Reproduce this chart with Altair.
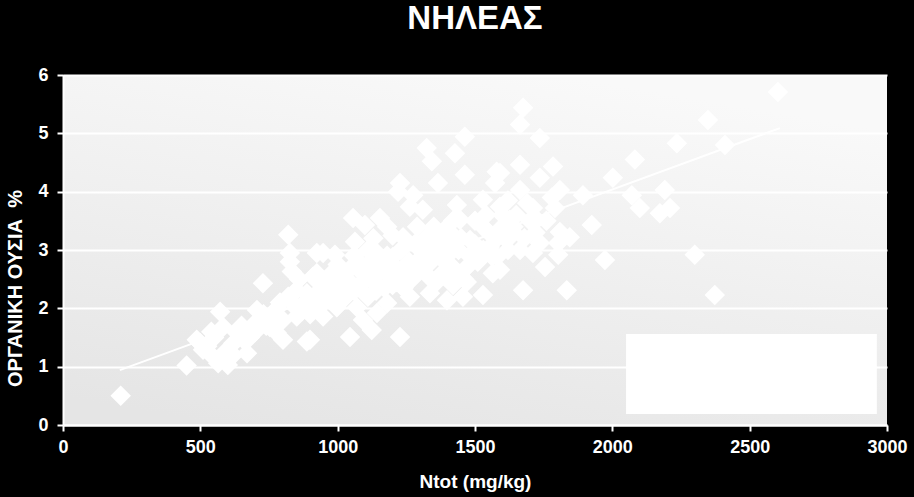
import altair as alt
import pandas as pd

# ---- data ----
n_tot = [
    210, 450, 487, 510, 500, 525, 565, 600, 590, 572, 583, 633, 670, 728, 706, 753, 778,
    820, 826, 826, 833, 888, 826, 851, 801, 924, 910, 888, 850,
    1463, 1324, 1343, 1427, 1463, 1579, 1573, 1227, 1220, 1275, 1365, 1434, 1529, 1056,
    1099, 1154, 1310, 1263, 1063, 947, 990, 924, 972, 1045, 924, 947, 899, 1045, 1124,
    1227, 1143, 1180, 1263, 1336, 1398, 1456, 1529, 1565, 1580, 1471, 1383, 1324, 1201,
    1143, 1081, 1117, 1190, 1238, 1289, 1361, 1409, 1482, 1529, 1554, 1445, 1020, 997,
    1070, 1092,
    1675, 1664, 1736, 2235, 2082, 1664, 1784, 1736, 2002, 1591, 1664, 1809, 1893, 2071,
    2191, 2100, 2173, 2210, 1791, 1711, 1627, 1725, 1925, 1809, 1845, 1803, 1736, 1664,
    1711, 1803, 1973, 2300, 1755, 1591, 1675, 1834, 1616, 1591, 2603, 2348, 2410, 2373,
    850, 880, 900, 920, 950, 960, 980, 1000, 1010, 1030, 1050, 1060, 1080, 1100, 1120,
    1140, 1150, 1160, 1180, 1200, 1210, 1230, 1250, 1260, 1280, 1300, 1310, 1320, 1340,
    1350, 1370, 1380, 1400, 1410, 1420, 1440, 1450, 1460, 1480, 1500, 1510, 1530, 1550,
    1560, 1580, 1600, 1620, 1640, 1650, 1680, 1700, 760, 780, 800, 820, 740, 700, 680,
    660, 620, 550, 540,
    1000, 1030, 1060, 1090, 1110, 1130, 1170, 1190, 1215, 1240, 1270, 1290, 1330, 1360,
    1390, 1420, 1440, 1470, 1350, 1390, 1420, 1500, 1540, 1600, 1620, 1640, 1690, 1720,
    1760, 1780, 1200, 1180, 1130, 1110, 1000, 970, 930, 900, 870, 860, 790, 760, 730,
    700, 650, 620, 540,
]
organic = [
    0.50, 1.02, 1.46, 1.29, 1.40, 1.35, 1.06, 1.03, 1.25, 1.94, 1.68, 1.58, 1.23, 2.43, 1.97, 1.68, 1.58,
    3.26, 2.95, 2.80, 2.63, 1.43, 2.14, 1.86, 1.46, 2.95, 2.54, 2.26, 2.31,
    4.94, 4.75, 4.52, 4.66, 4.29, 4.34, 4.15, 4.15, 4.00, 3.94, 4.15, 3.77, 3.86, 3.55,
    3.43, 3.55, 3.69, 3.74, 3.14, 2.95, 2.92, 2.60, 2.57, 2.45, 2.26, 1.86, 1.46, 1.51, 1.63,
    1.51, 1.92, 2.09, 2.20, 2.26, 2.14, 2.20, 2.23, 2.60, 2.88, 2.71, 2.83, 3.00, 2.88,
    2.95, 2.78, 2.60, 2.54, 3.22, 3.40, 3.29, 3.17, 3.17, 3.40, 3.05, 3.52, 2.31, 2.02,
    2.02, 1.80,
    5.44, 5.15, 4.92, 4.83, 4.55, 4.46, 4.43, 4.24, 4.24, 4.32, 4.03, 4.03, 3.94, 3.94,
    4.03, 3.72, 3.63, 3.72, 3.72, 3.72, 3.52, 3.52, 3.43, 3.31, 3.22, 3.12, 3.12, 3.00,
    2.95, 2.92, 2.83, 2.92, 2.71, 2.66, 2.31, 2.31, 3.17, 3.74, 5.71, 5.23, 4.80, 2.23,
    2.00, 2.10, 1.90, 2.00, 2.10, 2.30, 2.20, 2.40, 2.60, 2.20, 2.70, 2.90, 2.40, 2.50, 2.80,
    2.30, 2.60, 2.70, 2.90, 2.40, 2.70, 3.00, 2.60, 2.80, 3.10, 2.70, 2.90, 3.20, 2.80,
    3.00, 3.10, 2.60, 2.90, 3.30, 2.70, 3.00, 3.20, 2.50, 2.90, 3.10, 2.80, 3.00, 3.30,
    2.90, 3.20, 3.40, 3.00, 3.30, 3.60, 3.20, 3.50, 1.90, 2.00, 1.80, 2.20, 1.70, 1.60, 1.50,
    1.45, 1.40, 1.50, 1.60,
    2.10, 2.50, 2.30, 2.60, 2.20, 2.45, 2.35, 2.75, 2.45, 2.35, 2.50, 2.60, 2.55, 2.45,
    2.55, 2.40, 2.60, 2.45, 3.40, 3.35, 3.50, 3.50, 3.60, 3.60, 3.85, 3.40, 3.80, 3.30,
    3.50, 3.90, 3.25, 3.40, 3.20, 3.00, 2.75, 2.40, 2.45, 2.10, 1.95, 2.50, 2.10, 1.75, 1.90,
    1.75, 1.70, 1.20, 1.20,
]
trend_n = [207, 2610]
trend_om = [0.94, 5.09]

x_ticks = [0, 500, 1000, 1500, 2000, 2500, 3000]
y_ticks = [0, 1, 2, 3, 4, 5, 6]
x_domain = [0, 3000]
y_domain = [0, 6]

plot_bg_n, plot_bg_n2 = [0], [3000]
plot_bg_om, plot_bg_om2 = [0], [6]
legend_n, legend_n2 = [2050], [2963]
legend_om, legend_om2 = [0.19], [1.56]

chart_title = "ΝΗΛΕΑΣ"
x_title = "Ntot (mg/kg)"
y_title = "ΟΡΓΑΝΙΚΗ ΟΥΣΙΑ\u00a0 %"

# ---- chart ----
FONT = "Liberation Sans"
pts = pd.DataFrame({"n": n_tot, "om": organic})
trend = pd.DataFrame({"n": trend_n, "om": trend_om})
bg = pd.DataFrame({"n": plot_bg_n, "n2": plot_bg_n2, "om": plot_bg_om, "om2": plot_bg_om2})
legend_box = pd.DataFrame({"n": legend_n, "n2": legend_n2, "om": legend_om, "om2": legend_om2})

x_scale = alt.Scale(domain=x_domain, nice=False, zero=False)
y_scale = alt.Scale(domain=y_domain, nice=False, zero=False)

common_axis = dict(
    labelFont=FONT, labelFontSize=18, labelFontWeight="bold", labelColor="white",
    titleFont=FONT, titleFontWeight="bold", titleColor="white",
    domainColor="white", domainWidth=2, tickColor="white", tickWidth=2, tickSize=6,
    zindex=1, format="d",
)
x_axis = alt.Axis(values=x_ticks, title=x_title, grid=False, labelPadding=7,
                  titlePadding=16, titleFontSize=19, labelFlush=False, labelOverlap=False,
                  **common_axis)
y_axis = alt.Axis(values=y_ticks, title=y_title, grid=True, gridColor="white", gridWidth=2,
                  labelPadding=9, titleAngle=-90, titleX=-48, titleY=213, titleFontSize=20,
                  titleBaseline="middle", titleAlign="center", labelOverlap=False, **common_axis)

X = alt.X("n:Q", scale=x_scale, axis=x_axis)
Y = alt.Y("om:Q", scale=y_scale, axis=y_axis)

gradient = alt.LinearGradient(
    gradient="linear",
    stops=[alt.GradientStop(color="#e5e5e5", offset=0), alt.GradientStop(color="#f9f9f9", offset=1)],
    x1=0.2, y1=1, x2=0.6, y2=0,
)

bg_layer = alt.Chart(bg).mark_rect(fill=gradient, stroke=None).encode(x=X, x2="n2", y=Y, y2="om2")
pts_layer = alt.Chart(pts).mark_point(shape="diamond", filled=True, size=420, color="white",
                                      opacity=1).encode(x=X, y=Y)
trend_layer = alt.Chart(trend).mark_line(color="white", strokeWidth=2).encode(x=X, y=Y)
legend_layer = alt.Chart(legend_box).mark_rect(color="white").encode(x=X, x2="n2", y=Y, y2="om2")

chart = alt.layer(bg_layer, pts_layer, trend_layer, legend_layer).properties(
    width=824, height=350,
    title=alt.TitleParams(chart_title, font=FONT, fontSize=33, fontWeight="bold", color="white",
                          anchor="middle", offset=30),
    autosize=alt.AutoSizeParams(type="none"),
    padding={"left": 63, "top": 75, "right": 27, "bottom": 72},
    background="black",
).configure_view(stroke=None)

chart.save("out.html", embed_options={"renderer": "svg", "actions": False})
